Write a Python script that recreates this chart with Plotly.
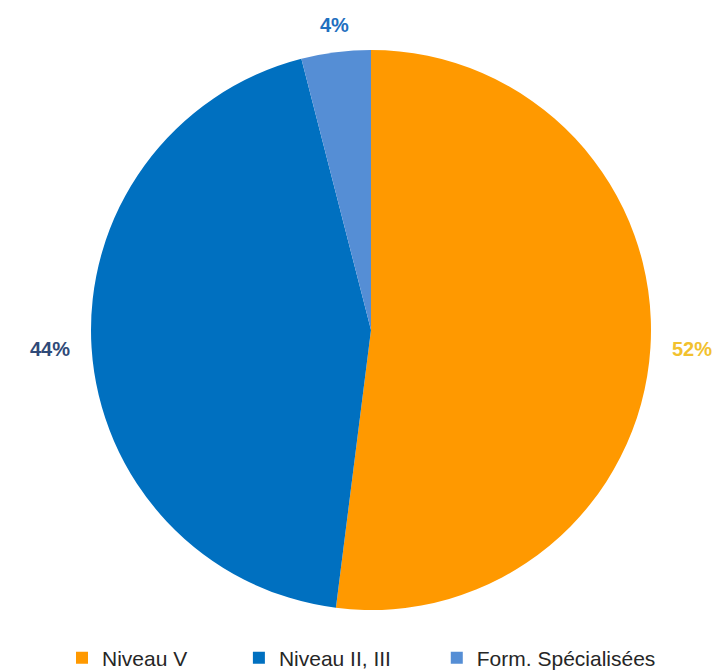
import math
import plotly.graph_objects as go

labels = ["Niveau V", "Niveau II, III", "Form. Spécialisées"]
values = [52, 44, 4]
colors = ["#FF9900", "#0070C0", "#558ED5"]
label_colors = ["#F2C12E", "#2F4A78", "#1F6FC0"]

W, H = 717, 670
CX, CY, R = 371, 330, 280  # pie centre/radius in figure pixels
GAP_SIDE, GAP_VERT = 20, 14

legend_names = [labels[0] + "\u00a0" * 8, labels[1] + "\u00a0" * 7, labels[2]]

fig = go.Figure(go.Pie(
    labels=legend_names,
    values=values,
    sort=False,
    direction="clockwise",
    rotation=0,
    marker=dict(colors=colors, line=dict(width=0)),
    textinfo="none",
    domain=dict(x=[(CX - R) / W, (CX + R) / W], y=[(H - CY - R) / H, (H - CY + R) / H]),
    hovertemplate="%{label}: %{percent}<extra></extra>",
))

# percentage labels placed outside each slice, derived from the values
total = sum(values)
cum = 0
for v, col in zip(values, label_colors):
    mid = (cum + v / 2) / total * 2 * math.pi
    cum += v
    s, c = math.sin(mid), math.cos(mid)
    xa = "left" if s > 0.3 else ("right" if s < -0.3 else "center")
    ya = "bottom" if c > 0.5 else ("top" if c < -0.5 else "middle")
    gap = GAP_SIDE if ya == "middle" else GAP_VERT
    px = CX + (R + gap) * s
    py = (H - CY) + (R + gap) * c
    fig.add_annotation(
        x=px / W, y=py / H, xref="paper", yref="paper",
        text=f"<b>{round(v / total * 100)}%</b>",
        showarrow=False, xanchor=xa, yanchor=ya,
        font=dict(family="Liberation Sans, Arial", size=20, color=col),
    )

fig.update_layout(
    width=W, height=H,
    margin=dict(l=0, r=0, t=0, b=0, autoexpand=False),
    paper_bgcolor="white",
    plot_bgcolor="white",
    showlegend=True,
    legend=dict(
        orientation="h",
        x=62 / W, xanchor="left",
        y=12 / H, yanchor="middle",
        font=dict(family="Liberation Sans, Arial", size=21, color="#262626"),
        itemwidth=30,
        traceorder="normal",
    ),
)

fig.write_html(
    "out.html",
    config={"displayModeBar": False},
    post_script="document.body.style.margin='0';document.body.style.overflow='hidden';",
)
